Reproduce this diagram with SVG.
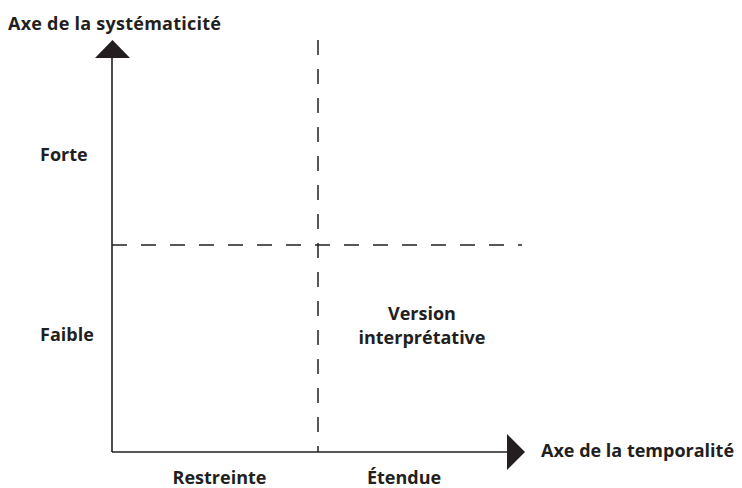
<svg xmlns="http://www.w3.org/2000/svg" width="742" height="488" viewBox="0 0 742 488">
<style>
text{font-family:"Open Sans","Noto Sans","Liberation Sans",sans-serif;font-weight:bold;font-size:18px;fill:#231f20}
.axis{stroke:#231f20;stroke-width:1.6;fill:none}
.dash{stroke:#231f20;stroke-width:1.5;fill:none;stroke-dasharray:15 14}
.head{fill:#231f20}
.c{text-anchor:middle}
</style>
<rect width="742" height="488" fill="#ffffff"/>
<g id="connectors">
<line class="dash" x1="318" y1="40" x2="318" y2="452"/>
<line class="dash" x1="112" y1="245" x2="522" y2="245"/>
<line class="axis" x1="112" y1="58" x2="112" y2="452"/>
<line class="axis" x1="112" y1="452" x2="508" y2="452"/>
<polygon class="head" points="95,58 112.5,40 130,58"/>
<polygon class="head" points="507,434 525,452 507,470"/>
</g>
<g id="axis-y-label"><text x="8" y="30" textLength="213" lengthAdjust="spacing">Axe de la systématicité</text></g>
<g id="axis-x-label"><text x="541" y="457">Axe de la temporalité</text></g>
<g id="forte"><text x="40" y="161">Forte</text></g>
<g id="faible"><text x="40" y="341">Faible</text></g>
<g id="restreinte"><text class="c" x="219.5" y="484">Restreinte</text></g>
<g id="etendue"><text class="c" x="404" y="484">Étendue</text></g>
<g id="version"><text class="c" x="422" y="320">Version</text><text class="c" x="422" y="344">interprétative</text></g>
</svg>
